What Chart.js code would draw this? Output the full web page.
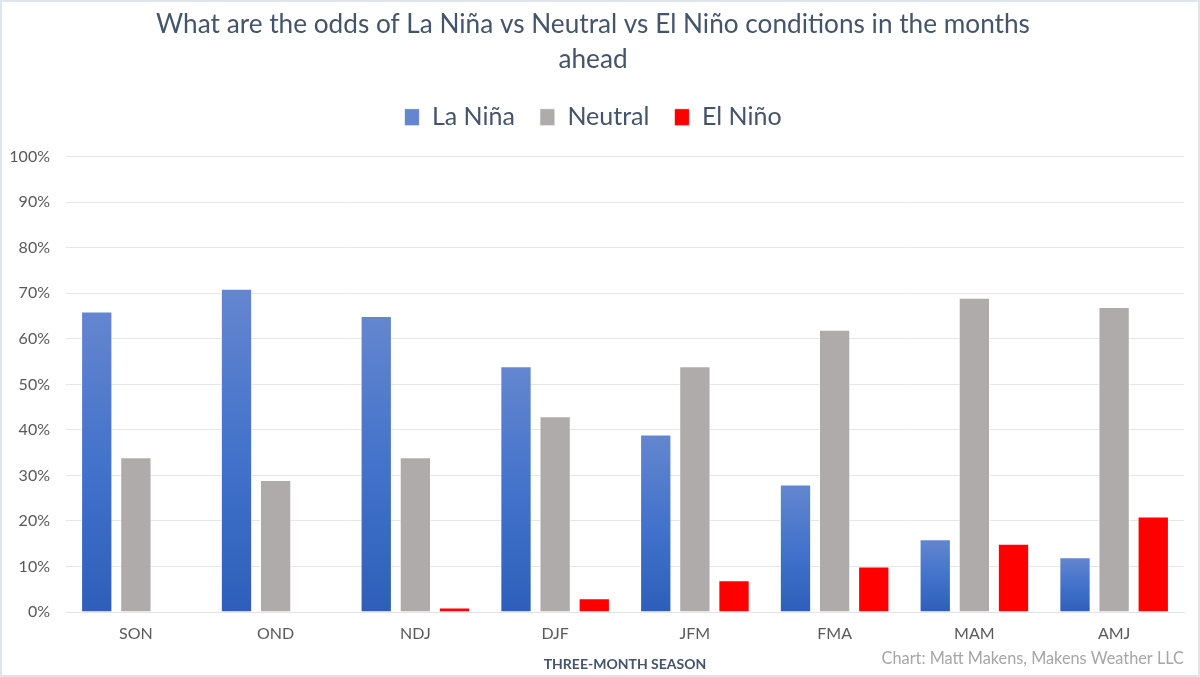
<!DOCTYPE html>
<html>
<head>
<meta charset="utf-8">
<script src="https://cdn.jsdelivr.net/npm/chart.js@4/dist/chart.umd.min.js"></script>
<style>
  html, body { margin: 0; padding: 0; background: #fff; }
  #wrap { width: 1200px; height: 677px; box-sizing: border-box; border: 2px solid #dde4ed; position: relative; }
</style>
</head>
<body>
<div id="wrap"><canvas id="myChart"></canvas></div>
<script>
// three-month seasons and the odds (%) for each phase
const seasons = ['SON', 'OND', 'NDJ', 'DJF', 'JFM', 'FMA', 'MAM', 'AMJ'];
const laNina  = [66, 71, 65, 54, 39, 28, 16, 12];
const neutral = [34, 29, 34, 43, 54, 62, 69, 67];
const elNino  = [0, 0, 1, 3, 7, 10, 15, 21];

const textColor = '#44546a';

// per-bar gradient, lighter at the top, like the Excel fill
blueFill = function (ctx) {
    const chart = ctx.chart;
    if (!chart.chartArea) return '#4472c4';
    const y = chart.scales.y;
    const top = y.getPixelForValue(ctx.raw);
    const bottom = y.getPixelForValue(0);
    if (!(bottom - top > 0)) return '#2f61bd';
    const g = chart.ctx.createLinearGradient(0, top, 0, bottom);
    g.addColorStop(0, '#6486cf');
    g.addColorStop(0.5, '#4373cb');
    g.addColorStop(1, '#2d5fba');
    return g;
};

// push the plot down a bit below the legend
const legendGap = {
    id: 'legendGap',
    beforeInit(chart) {
        const fit = chart.legend.fit;
        chart.legend.fit = function () {
            fit.bind(chart.legend)();
            this.height += 17;
        };
    }
};

const creditPlugin = {
    id: 'credit',
    afterDraw(chart) {
        const c = chart.ctx;
        c.save();
        c.font = '16.3px Lato';
        c.fillStyle = '#a6a6a6';
        c.textAlign = 'right';
        c.textBaseline = 'middle';
        c.fillText('Chart: Matt Makens, Makens Weather LLC', chart.chartArea.right, 657);
        c.restore();
    }
};

const ctx = document.getElementById('myChart').getContext('2d');
const myChart = new Chart(ctx, {
    type: 'bar',
    data: {
        labels: seasons,
        datasets: [{
            label: 'La Niña',
            data: laNina,
            backgroundColor: blueFill,
            borderColor: 'rgba(255,255,255,0.7)',
            borderWidth: 1
        }, {
            label: 'Neutral',
            data: neutral,
            backgroundColor: '#afabab',
            borderColor: 'rgba(255,255,255,0.7)',
            borderWidth: 1
        }, {
            label: 'El Niño',
            data: elNino,
            backgroundColor: '#ff0000',
            borderColor: 'rgba(255,255,255,0.7)',
            borderWidth: 1
        }]
    },
    options: {
        responsive: true,
        maintainAspectRatio: false,
        animation: false,
        layout: { padding: { left: 0, right: 14, top: 0, bottom: 2 } },
        datasets: {
            bar: { categoryPercentage: 0.84, barPercentage: 0.8 }
        },
        plugins: {
            title: {
                display: true,
                text: ['What are the odds of La Niña vs Neutral vs El Niño conditions in the months', 'ahead'],
                color: textColor,
                font: { family: 'Lato', size: 26.2, weight: 'normal', lineHeight: 1.33 },
                padding: { top: 5, bottom: 3 }
            },
            legend: {
                display: true,
                labels: {
                    color: textColor,
                    font: { family: 'Lato', size: 25 },
                    boxWidth: 15,
                    boxHeight: 17,
                    padding: 25
                }
            },
            tooltip: { enabled: false }
        },
        scales: {
            x: {
                grid: { display: false, drawTicks: false },
                border: { color: '#e3e3e3' },
                ticks: { color: '#595959', font: { family: 'Lato', size: 16 }, padding: 12 },
                title: {
                    display: true,
                    text: 'THREE-MONTH SEASON',
                    color: textColor,
                    font: { family: 'Lato', size: 14, weight: 'bold' },
                    padding: { top: 1, bottom: 0 }
                }
            },
            y: {
                min: 0,
                max: 100,
                afterFit: function (scale) { scale.width = 64; },
                ticks: {
                    stepSize: 10,
                    color: '#595959',
                    font: { family: 'Lato', size: 16 },
                    padding: 16,
                    callback: function (v) { return v + '%'; }
                },
                grid: { color: '#e6e6e6', drawTicks: false },
                border: { display: false }
            }
        }
    },
    plugins: [legendGap, creditPlugin]
});
</script>
</body>
</html>
